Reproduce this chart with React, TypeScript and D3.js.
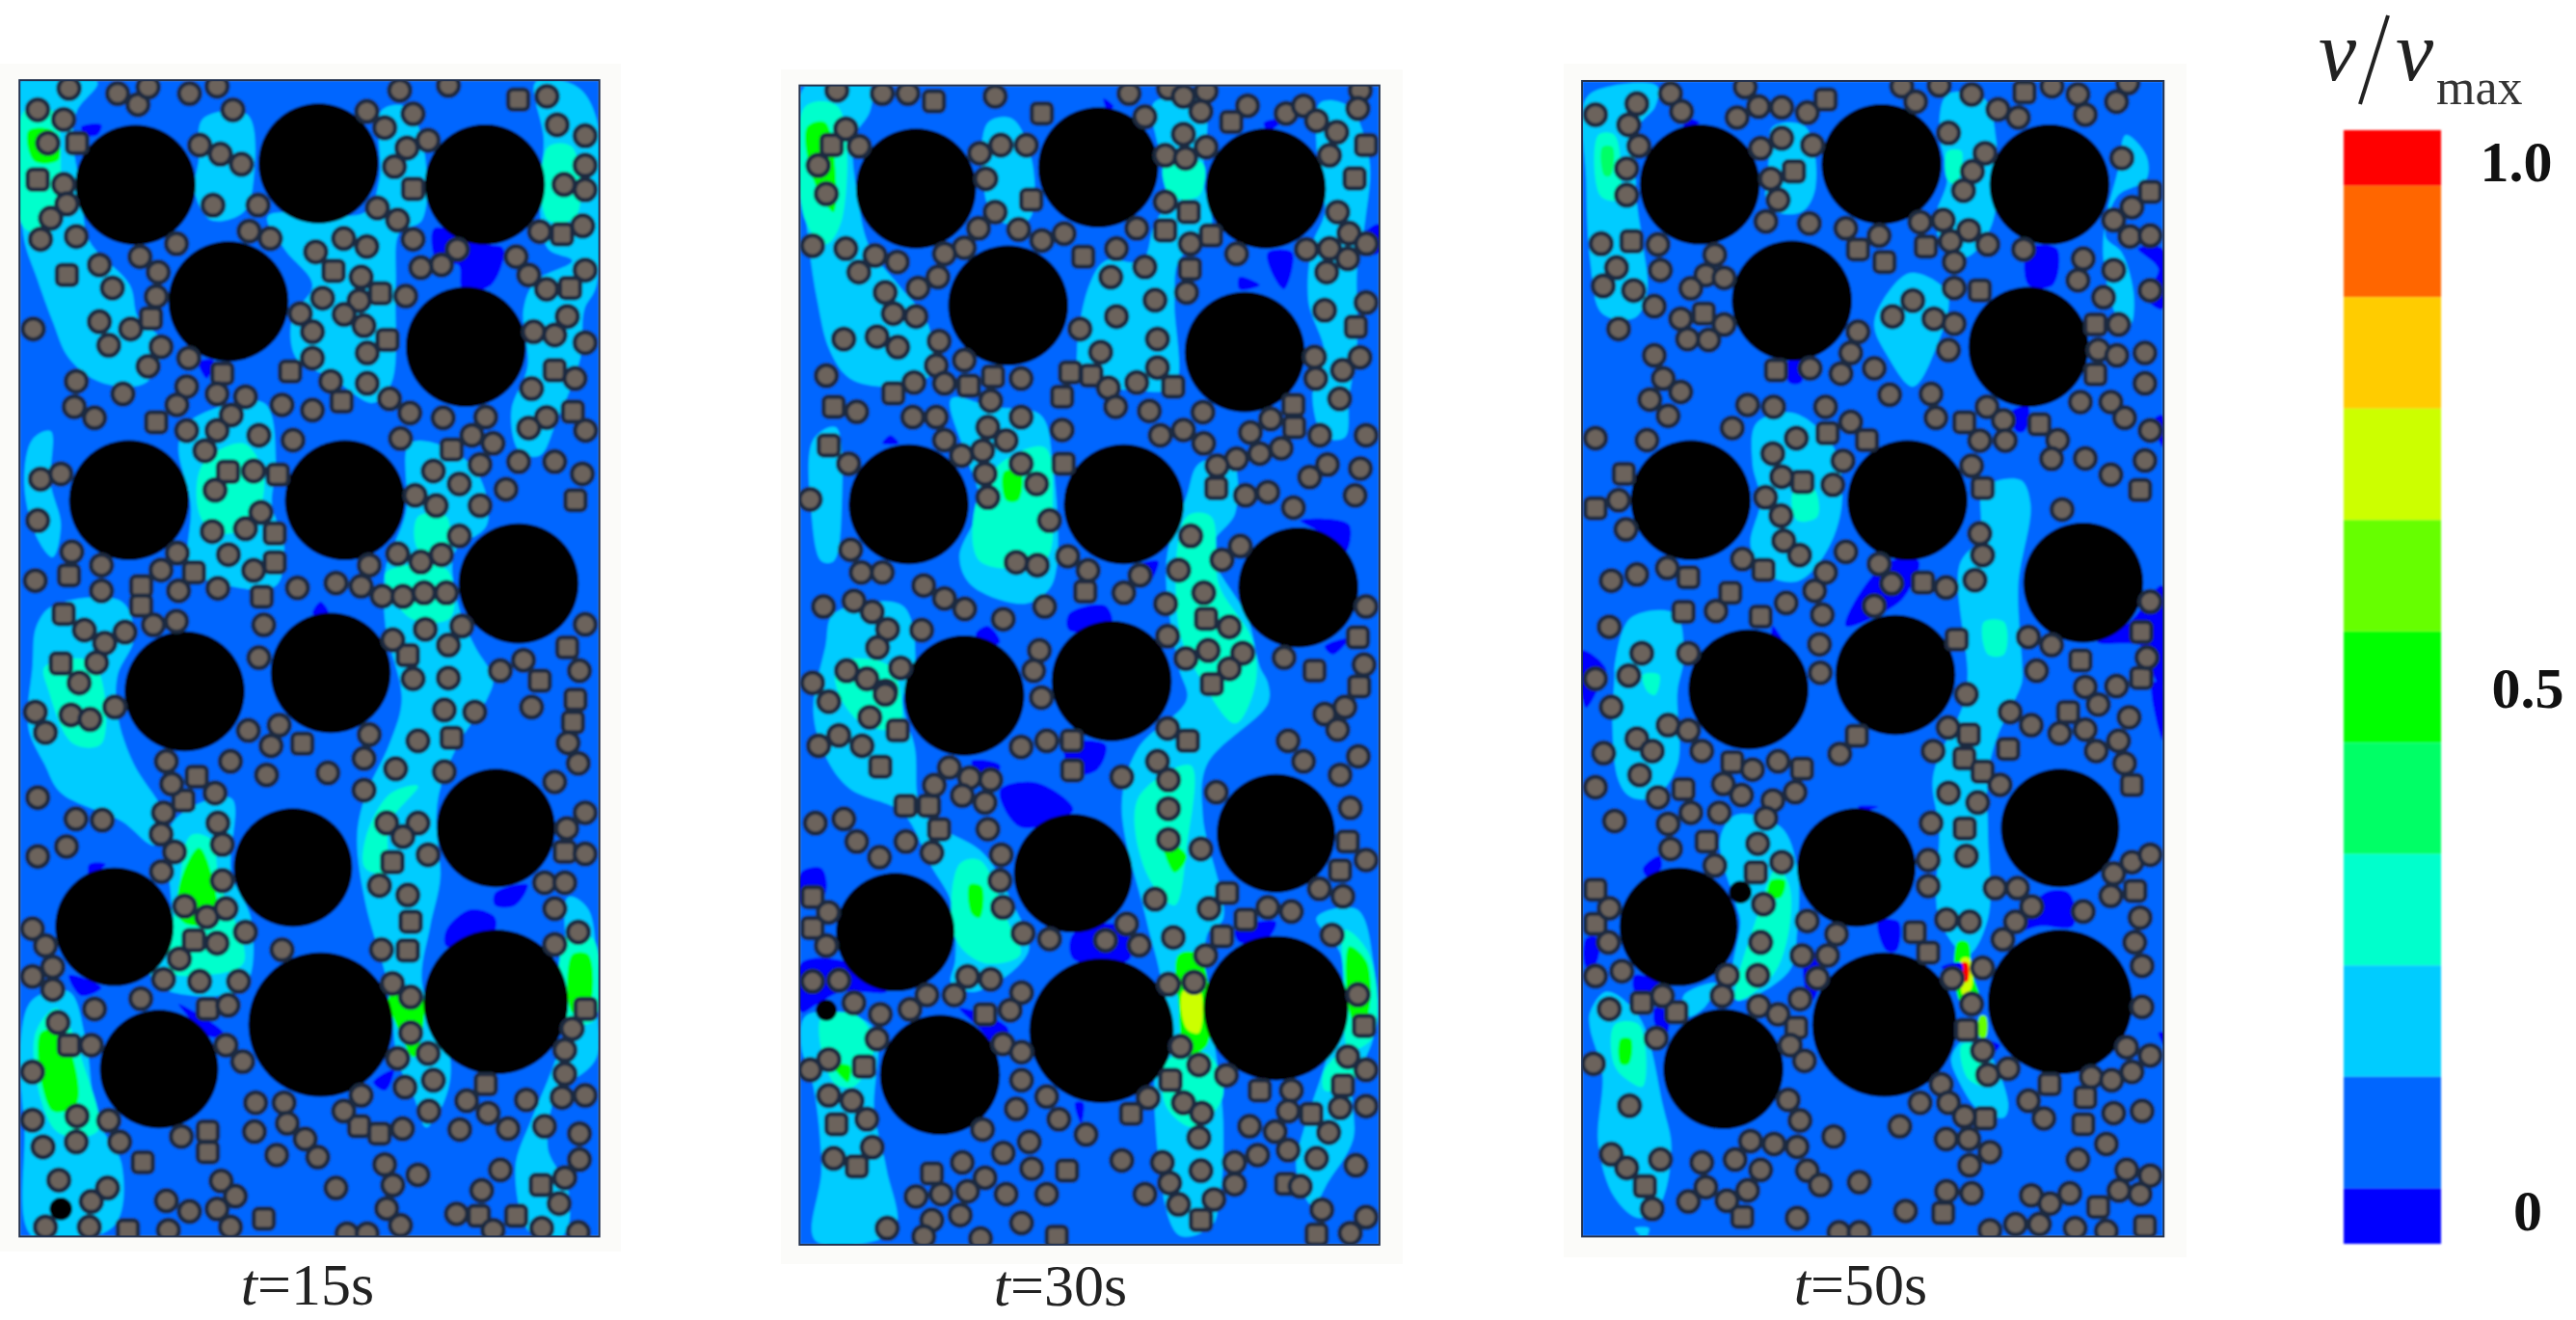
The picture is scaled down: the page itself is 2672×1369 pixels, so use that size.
import React from "react";
import * as d3 from "d3";

// All coordinates in "crop units": x 0..1568 over a 660px window,
// y 0..1568 over the upper (y 60-720) or lower (y 700-1369) window of each panel.
const bandEdges = [1, 0.95, 0.85, 0.75, 0.65, 0.55, 0.45, 0.35, 0.25, 0.15, 0.05, 0];
const bandColors = ["#ff0000", "#ff6600", "#ffcc00", "#ccff00", "#66ff00", "#00ff00", "#00ff66", "#00ffcc", "#00ccff", "#0066ff", "#0000ff"];
const tickValues = [0.972, 0.5, 0.03];
const tickLabels = ["1.0", "0.5", "0"];
const captions = ["15", "30", "50"];

// level: 0 blue, 1 background, 2 cyan, 3 teal, 4 spring, 5 green, 6 lime, 7 yellow-green, 8 amber, 9 orange, 10 red
const levelColors = ["#0000ff", "#0066ff", "#00ccff", "#00ffcc", "#00ff66", "#00ff00", "#66ff00", "#ccff00", "#ffcc00", "#ff6600", "#ff0000"];

const p1GrainsTop = [334,313,148, 785,260,148, 1195,312,148, 563,600,148, 1148,712,148, 318,1090,148, 850,1090,148, 1278,1295,148];
const p1GrainsBot = [455,40,148, 815,-5,148, 282,612,146, 722,468,146, 1222,372,146, 392,958,146, 790,850,178, 1222,795,178, 150,1298,28];
const p2GrainsTop = [333,322,148, 782,270,148, 1195,322,148, 560,610,148, 1143,725,148, 315,1100,148, 845,1100,148, 1275,1305,148];
const p2GrainsBot = [452,50,148, 815,15,148, 282,625,146, 720,482,146, 1220,385,146, 392,972,148, 790,865,178, 1220,810,178, 112,815,26];
const p3GrainsTop = [340,312,148, 788,262,148, 1202,312,148, 567,598,148, 1150,712,148, 318,1090,148, 852,1090,148, 1285,1293,148];
const p3GrainsBot = [460,35,148, 822,0,148, 288,612,146, 726,468,146, 1228,372,146, 398,958,148, 795,850,178, 1228,795,178, 440,528,28];

const p1CirclesTop = [170,75,290,88,340,115,365,72,467,88,535,70,574,128,93,128,157,152,118,210,157,312,165,360,125,395,100,447,188,440,985,80,1105,68,1348,95,904,132,948,172,1018,138,1003,222,1055,203,972,268,1373,165,1442,192,1442,265,1390,312,1442,325,492,215,543,237,595,262,525,363,636,363,930,370,980,400,614,427,666,445,435,458,345,490,245,510,390,528,385,588,277,567,245,650,322,668,268,708,397,712,365,760,82,668,465,740,778,478,847,445,904,465,1018,447,1127,472,1088,510,1037,517,1272,490,1330,428,1436,414,1303,535,1347,570,1442,523,890,540,795,592,885,598,1000,587,740,630,848,632,770,675,897,660,770,740,905,727,815,797,905,802,1398,637,1315,675,1367,683,1442,702,188,797,303,828,183,860,233,887,460,810,436,855,535,828,605,835,570,880,695,855,770,868,960,840,1010,875,1092,887,1197,885,1417,790,1310,815,1347,886,1303,912,1443,918,460,918,535,918,638,930,722,942,505,968,987,938,1163,930,1215,950,1183,1002,1278,995,1367,995,1435,1025,100,1038,150,1025,625,1018,530,1065,1068,1018,1132,1050,1023,1078,1075,1103,1183,1103,1247,1063,93,1140,643,1120,523,1167,605,1160,1132,1178,177,1217,250,1250,437,1220,563,1224,980,1222,1037,1242,1088,1224,910,1250,625,1263,397,1262,87,1288,250,1313,440,1313,537,1307,733,1306,828,1294,890,1302,942,1326,993,1327,1045,1318,1100,1318,378,1397,435,1388,208,1410,308,1415,258,1442,650,1397,1048,1408,1138,1400,1442,1396,968,1434,1105,1447,238,1490,638,1478,1290,1484,1233,1510,1428,1510,195,1540,1105,1528,1018,1530];
const p1SquaresTop = [1277,103,190,210,93,300,1018,323,165,535,1385,435,822,525,937,580,1405,567,372,642,955,695,548,778,715,773,1367,770,842,847,385,898,1412,872,1113,965,562,1020,685,1027,677,1172,170,1275,478,1268,677,1243,348,1302,348,1350,645,1328,157,1370,1005,1472,1398,1453,150,1492,1330,1535,1418,1090];
const p1CirclesBot = [87,90,112,140,175,97,222,108,283,78,1095,85,1170,90,1310,78,612,135,688,122,668,172,910,145,897,203,568,210,657,243,808,238,410,210,423,265,530,287,897,280,975,228,1030,160,1095,235,1367,260,1400,165,93,298,187,350,252,353,403,335,397,387,537,360,548,412,164,417,93,441,430,430,1442,335,1397,373,1442,435,953,360,1030,360,993,393,1055,437,398,478,548,500,935,512,1005,535,1342,505,1392,505,1367,568,455,562,510,588,557,568,80,617,112,658,130,710,80,733,130,765,535,652,605,625,695,668,940,668,1425,625,1367,655,442,690,403,740,492,745,588,745,967,750,347,787,562,803,233,812,1012,783,143,845,225,900,1012,870,1410,860,557,900,598,940,80,965,1055,920,980,932,1392,912,1392,970,998,1002,1068,985,1297,1033,1385,1027,1442,1022,630,1040,700,1040,890,1022,847,1060,1057,1060,1150,1035,1203,1065,80,1082,190,1072,268,1083,708,1090,1133,1105,1252,1103,1342,1097,992,1103,106,1147,188,1135,295,1135,447,1122,627,1110,752,1128,1428,1115,682,1167,783,1172,1428,1178,948,1190,145,1228,1030,1215,1233,1203,545,1230,265,1247,828,1247,968,1240,1187,1253,1392,1222,225,1280,410,1278,580,1267,467,1304,535,1298,1378,1285,953,1297,1125,1310,112,1342,220,1342,415,1350,568,1342,987,1338,1215,1350,855,1358,905,1358,1335,1345,1425,1355,1425,215];
const p1SquaresBot = [1113,153,1418,60,1412,115,745,167,485,247,452,305,967,455,1392,430,1012,600,1005,670,478,645,1443,812,170,900,512,812,1197,995,512,1110,512,1160,885,1097,935,1115,352,1185,650,1322,1333,1240,1180,1315,1272,1315,315,1350];

const p2CirclesTop = [138,80,250,88,313,88,528,95,858,88,955,75,992,95,1048,82,1428,80,1422,125,160,175,193,218,92,265,112,335,78,463,160,470,232,487,287,503,192,528,897,145,1035,132,1150,118,1245,137,1288,118,1320,155,1370,183,992,188,1048,220,947,240,997,247,1352,240,490,235,542,215,605,215,505,298,528,380,487,420,452,468,403,483,387,540,338,567,257,578,277,630,333,637,586,423,643,450,698,433,877,420,947,355,1372,380,1400,432,1443,458,1295,472,1352,470,1397,495,1345,528,1123,483,1009,458,827,470,897,515,813,540,1000,578,922,597,827,637,1340,622,1442,603,737,668,155,693,237,687,288,713,390,698,928,693,788,725,1315,737,1427,738,1384,770,1318,790,452,745,383,758,112,783,328,800,403,802,592,790,928,763,877,800,807,813,1377,840,187,872,517,845,825,860,325,885,383,885,592,885,908,870,1040,873,1207,890,510,910,693,917,935,930,992,917,1157,923,1328,930,403,942,555,943,1042,950,1442,930,497,968,445,980,1123,988,1180,975,1233,962,167,1000,592,1000,1075,1005,1347,1002,1428,1012,503,1025,1303,1033,630,1050,72,1088,510,1083,1145,1078,1200,1070,1415,1078,1263,1108,662,1140,1010,1178,1132,1203,172,1212,707,1228,1087,1237,198,1268,250,1268,580,1243,632,1250,757,1263,980,1262,885,1275,352,1300,403,1332,845,1318,1042,1318,180,1338,105,1352,225,1365,453,1358,650,1352,948,1345,1442,1352,548,1383,263,1408,347,1410,1105,1402,953,1425,238,1453,637,1460,1138,1467,1053,1460,998,1480,1240,1478,295,1503,1437,1495,162,1510,212,1530,1105,1505,623,1510,78,1540,258,1560];
const p2SquaresTop = [377,107,643,137,1110,158,125,215,1442,215,1414,297,617,350,1005,380,947,425,1060,438,745,490,1008,520,1417,663,713,775,765,783,523,785,463,808,277,827,693,835,967,810,130,860,1263,855,1265,910,118,955,697,1000,1073,1060,750,1315,1048,1382,1422,1428,1315,1510];
const p2CirclesBot = [118,65,257,47,642,55,219,103,143,147,93,172,200,172,1340,95,1390,78,1372,133,1250,160,592,175,655,160,953,130,415,225,928,210,955,255,840,248,1288,210,1423,198,1378,243,465,250,517,255,378,268,447,293,503,310,1073,285,955,325,1403,323,155,350,85,360,187,405,308,405,510,375,955,400,372,432,243,443,543,437,1035,423,1442,450,540,500,1327,520,1385,538,922,545,1055,568,547,565,1200,565,1258,575,117,577,597,628,662,642,800,645,852,605,883,657,1358,632,967,638,112,658,1047,682,460,733,517,740,143,742,78,745,1018,747,955,752,593,772,1422,777,360,778,427,778,180,797,318,813,565,815,245,825,237,885,547,897,593,917,985,903,118,935,1397,928,1030,948,72,960,1442,960,1098,973,593,985,1258,1010,118,1022,655,1025,905,1028,175,1035,992,1040,580,1055,1037,1065,1250,1060,1378,1052,1442,1048,212,1080,685,1080,1155,1097,1350,1112,497,1105,1218,1110,752,1117,1030,1125,612,1135,225,1148,1250,1155,548,1162,1175,1167,130,1175,447,1185,840,1180,940,1185,1320,1175,1118,1185,1417,1192,618,1200,1035,1205,503,1222,958,1235,1118,1238,1280,1243,333,1268,395,1262,460,1255,555,1262,655,1262,897,1262,1067,1275,980,1287,1333,1300,442,1313,372,1325,262,1345,593,1332,1442,1318,1403,1357,352,1365,492,1370];
const p2SquaresBot = [1062,22,1425,28,288,135,1003,160,245,223,718,232,717,160,307,318,365,318,390,375,1397,405,1378,475,1100,530,1145,595,78,540,78,615,1087,635,503,825,1437,853,205,952,960,985,1385,998,1180,1010,863,1067,1307,1067,137,1092,187,1195,372,1212,705,1205,1245,1237,1035,1325,680,1365,1320,1360];

const p3CirclesTop = [268,88,452,72,838,70,930,68,1010,90,1208,70,1272,90,1395,62,1367,108,1290,140,185,113,83,140,165,165,295,132,432,147,485,120,542,122,605,135,872,108,1075,127,1125,147,190,217,542,198,490,223,618,215,953,185,1043,235,160,273,1380,247,515,298,1012,280,160,338,533,350,990,327,1405,368,503,403,610,408,700,420,883,405,940,400,1360,400,782,438,1003,425,958,452,1050,460,1400,440,1450,438,97,458,237,460,1138,472,377,485,1285,495,967,503,135,517,243,523,355,535,400,542,1360,523,1272,548,102,562,177,573,318,568,967,567,1450,573,1335,590,228,612,865,598,293,643,400,657,815,637,917,643,967,655,1372,657,140,668,730,675,310,693,362,695,712,727,953,720,1322,720,1368,733,1437,727,228,733,612,765,688,778,770,765,250,790,293,823,1437,802,217,842,808,830,910,828,458,855,522,860,650,860,1048,860,1278,848,1353,848,262,882,922,887,1387,887,712,897,1088,893,420,912,1450,918,83,937,210,942,578,937,1030,943,1093,943,1222,942,520,975,693,993,1207,988,1290,987,1437,992,1010,1005,1353,1027,542,1032,668,1052,140,1090,502,1083,1233,1113,540,1128,158,1162,1030,1172,547,1190,700,1217,586,1225,1037,1225,445,1235,260,1257,782,1247,185,1273,650,1268,122,1288,1018,1287,813,1295,947,1305,623,1313,553,1343,380,1363,642,1372,770,1350,1450,1340,117,1402,1150,1427,1207,1447,635,1445,197,1467,312,1467,1442,1478,637,1515,165,1522,83,1530,1170,1510,1290,1550,1367,1548];
const p3SquaresTop = [650,103,1140,85,572,280,1450,330,172,452,730,472,897,465,795,503,1030,573,350,630,1315,657,1315,780,528,770,992,898,1177,903,655,925,752,942,153,1025,593,1045,1037,1060,83,1110,1425,1065,497,1262,312,1280,890,1293,415,1318,300,1365,490,1377,973,1433,1428,1415,1278,1485,1428,1528];
const p3CirclesBot = [122,78,997,47,1105,90,1157,122,1322,72,1398,103,262,122,312,135,952,128,1227,142,1290,133,185,155,223,185,103,190,345,185,685,192,915,185,1372,160,1317,185,533,210,470,230,192,243,83,273,398,265,1387,215,1080,267,443,292,237,298,575,285,520,305,953,287,1025,310,388,335,318,335,503,348,130,355,262,362,910,360,483,410,268,423,997,440,377,463,903,450,542,455,1405,455,1450,437,1360,483,903,513,1068,518,1123,518,1353,537,497,557,1158,563,117,567,1285,575,948,595,1005,600,1118,600,605,598,1425,590,677,630,490,650,115,650,1087,643,592,682,655,682,1412,650,1430,707,1037,712,408,730,483,730,148,720,83,732,630,737,962,738,395,780,248,780,587,788,1010,800,485,805,117,812,533,825,1430,807,233,883,563,900,1392,905,1037,913,1450,925,598,938,78,945,1100,957,1050,972,1405,965,1305,977,1355,985,935,995,558,1033,1150,1035,953,1040,167,1047,883,1040,1360,1065,1430,1060,992,1073,1188,1078,587,1083,833,1097,670,1122,947,1128,1003,1128,465,1133,523,1140,580,1147,1342,1140,122,1165,1055,1160,1272,1178,243,1178,345,1185,427,1178,160,1198,1005,1192,490,1203,605,1205,1392,1203,1450,1217,637,1240,733,1233,355,1245,458,1253,1373,1253,1252,1260,948,1255,1010,1260,1157,1265,1425,1262,312,1280,407,1278,1203,1285,223,1298,847,1303,580,1320,1118,1335,1177,1335,1055,1350,1265,1345,683,1355,733,1355,1342,1352];
const p3SquaresBot = [1248,90,727,148,1003,145,1100,180,992,203,1037,235,420,212,592,228,1405,268,300,278,993,373,357,405,478,480,1413,525,83,522,83,605,870,625,903,675,197,797,282,820,578,857,997,863,1202,995,1290,1027,1043,1078,1285,1092,205,1243,445,1317,940,1308,1322,1293,1437,1340];

type Region = [number, number[]];
const p1RegionsTop: Region[] = [
  [2,[50,60,240,60,190,130,180,200,200,330,220,450,320,560,340,640,400,700,360,800,250,800,170,740,130,650,90,540,60,450,50,300]],
  [2,[500,150,610,140,625,300,600,380,520,400,480,330,490,250]],
  [2,[940,130,1000,120,1040,200,1040,400,985,430,975,560,965,800,920,850,820,790,730,740,720,640,770,560,700,470,660,390,900,380,935,300]],
  [2,[1320,60,1420,70,1470,150,1470,560,1440,620,1430,740,1370,900,1330,980,1280,970,1260,870,1300,760,1290,620,1320,550,1410,500,1350,470,1330,350,1340,200]],
  [2,[80,940,125,920,125,1050,150,1150,130,1230,90,1180,60,1050]],
  [2,[460,900,650,850,680,1000,670,1100,700,1200,680,1300,560,1300,470,1260,470,1100,440,960]],
  [2,[1010,950,1100,960,1180,1030,1200,1150,1120,1220,1130,1350,1170,1450,1215,1530,1200,1580,1130,1690,1085,1800,1075,1880,1085,2020,1060,2140,1040,2280,1110,2470,1095,2570,1050,2635,1020,2560,980,2470,960,2300,900,2080,880,1920,900,1820,960,1690,990,1580,950,1400,950,1260,1000,1120]],
  [2,[80,1500,90,1400,130,1350,300,1340,330,1430,290,1520,290,1621,330,1741,400,1851,420,1921,380,1941,300,1881,150,1811,110,1741,70,1651]],
  [3,[60,130,130,130,150,300,140,420,60,420]],
  [5,[70,180,130,180,145,250,85,255]],
  [3,[1350,220,1410,220,1420,390,1350,400]],
  [3,[500,1000,600,950,650,1030,620,1150,530,1170,490,1120]],
  [3,[1030,1130,1100,1130,1100,1220,1030,1210]],
  [3,[950,1270,1100,1260,1110,1380,1010,1380]],
  [3,[110,1500,230,1490,250,1690,180,1690,120,1560]],
  [0,[200,170,250,165,240,190,210,190]],
  [0,[1070,420,1200,460,1240,470,1210,560,1140,570,1130,510,1080,510]],
  [0,[490,750,525,745,510,790]],
  [0,[770,1370,810,1370,790,1340]],
];
const p1RegionsBot: Region[] = [
  [2,[425,360,570,300,570,480,620,600,600,760,420,770,370,730,420,600]],
  [2,[80,790,170,770,210,880,240,1080,300,1190,280,1340,80,1365,60,1100,50,900]],
  [2,[1400,540,1450,570,1470,800,1470,930,1420,980,1380,1000,1350,1150,1400,1250,1390,1360,1310,1360,1270,1200,1310,1080,1360,960,1400,830]],
  [3,[440,530,470,390,520,400,540,500,600,700,490,730,420,720]],
  [5,[440,520,490,420,520,480,530,600,450,600]],
  [3,[900,400,960,290,1030,270,960,360,950,480,900,470]],
  [3,[85,880,140,810,210,960,240,1110,140,1110]],
  [5,[100,870,150,870,190,1040,130,1060]],
  [3,[1395,640,1460,640,1465,840,1395,840]],
  [5,[1410,680,1450,680,1450,810,1410,820]],
  [5,[960,780,1040,780,1020,930,990,880]],
  [0,[170,730,250,760,200,780]],
  [0,[1100,620,1160,570,1220,590,1210,640,1100,660]],
  [0,[920,990,970,960,950,1010]],
  [0,[440,800,550,870,520,880]],
  [0,[220,460,260,460,220,490]],
  [0,[1220,530,1300,510,1270,560,1220,560]],
];
const p2RegionsTop: Region[] = [
  [2,[60,70,220,70,220,130,180,200,190,350,220,470,290,560,360,650,370,780,270,810,170,790,120,720,90,600,70,470,55,300]],
  [2,[510,160,570,150,620,260,610,400,530,400,500,320]],
  [2,[920,110,1040,110,1040,300,1060,420,980,500,970,600,970,810,880,820,740,790,730,720,760,560,800,500,890,500,920,410,960,340,930,220]],
  [2,[1330,110,1400,120,1450,250,1440,400,1420,520,1420,700,1400,840,1390,935,1340,935,1310,830,1340,730,1300,600,1310,460,1340,380,1320,220]],
  [2,[80,940,135,910,150,1100,130,1240,100,1240,75,1120]],
  [2,[420,840,520,860,640,880,670,1000,680,1250,660,1310,600,1345,470,1300,440,1230,490,1100,460,990]],
  [2,[1030,1000,1110,990,1120,1120,1060,1210,1150,1380,1180,1500,1200,1540,1200,1591,1050,1741,1040,1871,1090,2121,1050,2161,1090,2621,1080,2821,1060,2880,980,2900,920,2571,940,2301,900,2121,840,1841,880,1701,1000,1581,980,1500,950,1240,1000,1080]],
  [2,[130,1370,300,1350,330,1500,300,1580,330,1700,350,1861,500,1961,570,2081,610,2201,480,2301,420,2281,430,2221,420,2081,370,1991,300,1861,170,1801,110,1721,80,1611,110,1450]],
  [3,[60,120,140,120,150,400,110,460,60,400]],
  [5,[65,170,110,160,130,380,80,300]],
  [3,[945,260,1040,260,1030,340,960,340]],
  [3,[540,1000,650,960,670,1100,650,1240,490,1240,480,1100]],
  [5,[550,1020,590,1020,585,1090,555,1090]],
  [3,[1000,1130,1060,1130,1080,1300,1160,1430,1170,1540,1120,1640,1040,1540,980,1400]],
  [3,[140,1490,270,1500,290,1650,200,1640,140,1560]],
  [0,[795,100,820,120,805,130]],
  [0,[1190,160,1240,150,1200,180]],
  [0,[1200,480,1260,480,1240,570,1210,530]],
  [0,[1130,540,1180,560,1130,570]],
  [0,[1440,430,1475,410,1475,480,1430,480]],
  [0,[250,950,290,950,270,930]],
  [0,[480,1420,510,1400,540,1440,500,1450]],
  [0,[710,1370,800,1350,815,1400,710,1410]],
  [0,[1280,1140,1400,1150,1390,1220,1330,1170]],
  [0,[1340,1450,1400,1430,1360,1470]],
  [0,[860,1260,930,1240,900,1300]],
];
const p2RegionsBot: Region[] = [
  [2,[60,830,130,820,230,860,230,1060,260,1200,280,1350,85,1375,100,1200,80,1000,50,900]],
  [2,[1320,590,1420,570,1460,700,1460,880,1410,1000,1410,1130,1350,1230,1310,1290,1270,1200,1290,1100,1340,950,1380,800,1380,680]],
  [3,[440,460,490,450,560,600,590,680,500,700,430,640]],
  [5,[465,510,495,515,490,590,470,580]],
  [3,[880,300,1010,220,1000,420,970,560,900,480]],
  [5,[940,400,1000,440,970,480]],
  [3,[950,940,1050,920,1090,1020,1020,1100,950,1050]],
  [5,[980,680,1030,680,1050,900,1000,920,980,800]],
  [7,[990,770,1030,760,1030,870,1000,860]],
  [3,[1390,620,1450,680,1460,880,1400,910,1390,780]],
  [5,[1400,660,1445,700,1440,840,1410,840]],
  [3,[1340,960,1400,910,1410,990,1340,1010]],
  [3,[100,830,190,830,230,900,180,1000,130,990]],
  [5,[130,950,170,950,165,990]],
  [0,[50,480,100,470,110,530,50,560]],
  [0,[540,280,620,260,700,300,720,330,590,370]],
  [0,[470,210,540,220,510,270]],
  [0,[720,630,840,610,860,690,720,690]],
  [0,[700,170,800,170,780,230,720,240]],
  [0,[50,700,170,700,260,770,150,770,90,800,50,820]],
  [0,[440,810,560,860,540,910,490,860]],
  [0,[1120,620,1220,600,1200,640,1130,650]],
  [0,[840,1070,890,1050,850,1095]],
  [0,[725,1040,745,1040,740,1090]],
];
const p3RegionsTop: Region[] = [
  [2,[60,100,120,70,235,70,230,120,190,170,185,350,200,460,210,580,180,640,100,630,70,500,60,300]],
  [2,[520,170,600,170,625,320,590,380,510,370,510,250]],
  [2,[950,90,1040,100,1070,200,1060,410,1000,490,950,480,920,400,950,300,930,180]],
  [2,[1390,190,1440,240,1440,300,1370,340,1340,440,1380,480,1410,590,1400,660,1370,640,1335,500,1340,400,1370,280]],
  [2,[860,530,950,580,920,720,865,810,800,730,770,660,790,600]],
  [2,[480,900,570,875,670,960,690,1100,650,1220,580,1290,500,1270,465,1200,490,1090,470,1000]],
  [2,[1040,1060,1130,1040,1155,1100,1125,1300,1135,1530,1130,1551,1070,1681,1050,1771,1050,1901,1050,2121,1000,2210,930,2121,930,1901,915,1771,990,1591,1000,1520,980,1250,1030,1180]],
  [2,[130,1500,170,1380,280,1370,300,1480,285,1561,285,1741,230,1821,170,1821,140,1781,125,1651,130,1520]],
  [3,[90,190,130,190,135,350,95,340]],
  [4,[100,220,125,220,120,290,105,290]],
  [3,[950,230,985,230,970,310,950,300]],
  [3,[570,1070,620,1060,630,1130,580,1140]],
  [3,[1040,1390,1090,1390,1090,1470,1050,1470]],
  [3,[200,1520,240,1520,230,1570,210,1560]],
  [0,[310,150,340,160,300,170]],
  [0,[1150,470,1220,470,1210,560,1150,560]],
  [0,[560,745,590,745,590,800,560,800]],
  [0,[1420,470,1480,470,1480,620,1440,590,1470,520]],
  [0,[1110,870,1150,860,1140,920,1120,920]],
  [0,[1460,890,1480,880,1480,960]],
  [0,[810,1240,880,1240,850,1320,820,1350,700,1400,740,1310]],
  [0,[520,1400,550,1450,520,1440]],
  [0,[50,1460,110,1510,50,1560]],
  [0,[1320,1440,1400,1390,1480,1300,1480,1560,1450,1500,1430,1450]],
];
const p3RegionsBot: Region[] = [
  [2,[1000,880,1040,900,1100,1040,1090,1075,1030,1060,980,990,960,930]],
  [2,[390,400,430,340,540,370,580,470,580,620,560,720,430,790,420,720,440,600,430,560]],
  [2,[70,820,110,770,190,830,250,1050,270,1150,240,1290,190,1320,130,1270,90,1140,100,970,70,860]],
  [2,[180,1345,215,1345,205,1369]],
  [2,[300,780,380,750,350,810,310,830]],
  [3,[430,790,480,590,530,470,560,510,560,620,520,730]],
  [5,[515,500,550,500,540,540,510,540]],
  [3,[130,850,190,850,200,1000,170,990,130,950]],
  [5,[145,885,170,885,165,945,145,945]],
  [3,[985,900,1020,900,1050,1000,1000,980]],
  [5,[975,650,1000,650,1010,720,1030,800,985,800]],
  [7,[985,690,1005,690,1010,760,990,780]],
  [10,[985,700,1000,700,1000,745,990,745]],
  [6,[1030,830,1045,830,1045,880,1030,880]],
  [0,[50,20,90,20,60,80]],
  [0,[1455,20,1480,20,1480,160]],
  [0,[200,470,240,440,245,470,210,490]],
  [0,[730,320,780,320,740,330]],
  [0,[1190,530,1250,530,1260,610,1180,610,1130,620]],
  [0,[60,640,90,640,85,700,60,710]],
  [0,[780,600,830,600,825,670,800,670]],
  [0,[180,730,240,750,230,770,180,770]],
  [0,[230,810,260,820,260,870,230,850]],
  [0,[1470,870,1485,870,1485,900]],
  [0,[600,680,640,680,620,790,605,780]],
  [0,[935,710,985,700,985,730]],
  [0,[1050,890,1080,900,1060,920]],
];

const pairs = (a: number[]) => d3.range(0, a.length, 2).map((i) => [a[i], a[i + 1]] as [number, number]);
const triples = (a: number[]) => d3.range(0, a.length, 3).map((i) => [a[i], a[i + 1], a[i + 2]]);

const panels = [
  { key: "p1", cropX: 0, frame: [48, 1477, 55, 1365], halo: [0, 644, 66, 1298], gt: p1GrainsTop, gb: p1GrainsBot, ct: p1CirclesTop, st: p1SquaresTop, cb: p1CirclesBot, sb: p1SquaresBot, rt: p1RegionsTop, rb: p1RegionsBot, cap: 0, capX: 319, capY: 1353 },
  { key: "p2", cropX: 810, frame: [46, 1475, 68, 1385], halo: [810, 1455, 72, 1311], gt: p2GrainsTop, gb: p2GrainsBot, ct: p2CirclesTop, st: p2SquaresTop, cb: p2CirclesBot, sb: p2SquaresBot, rt: p2RegionsTop, rb: p2RegionsBot, cap: 1, capX: 1100, capY: 1354 },
  { key: "p3", cropX: 1620, frame: [50, 1483, 57, 1365], halo: [1622, 2268, 66, 1304], gt: p3GrainsTop, gb: p3GrainsBot, ct: p3CirclesTop, st: p3SquaresTop, cb: p3CirclesBot, sb: p3SquaresBot, rt: p3RegionsTop, rb: p3RegionsBot, cap: 2, capX: 1930, capY: 1353 },
];

const yTop = d3.scaleLinear().domain([0, 1568]).range([60, 720]);
const yBot = d3.scaleLinear().domain([0, 1568]).range([700, 1369]);
const serif = "'Liberation Serif', serif";
const particleFill = "#6c635c";
const particleStroke = "#1f2b40";

function Panel({ p }: { p: (typeof panels)[number] }) {
  const x = d3.scaleLinear().domain([0, 1568]).range([p.cropX, p.cropX + 660]);
  const rUnit = 660 / 1568;
  const line = d3.line<[number, number]>().curve(d3.curveCatmullRomClosed.alpha(0.5));
  const regionPath = (r: Region, y: d3.ScaleLinear<number, number>) =>
    line(pairs(r[1]).map(([a, b]) => [x(a), y(b)] as [number, number])) as string;
  const regions = [
    ...p.rt.map((r) => ({ lvl: r[0], d: regionPath(r, yTop) })),
    ...p.rb.map((r) => ({ lvl: r[0], d: regionPath(r, yBot) })),
  ].sort((a, b) => (a.lvl === 0 ? 1 : b.lvl === 0 ? -1 : a.lvl - b.lvl));
  const [f0, f1, f2, f3] = p.frame;
  const fx = x(f0), fw = x(f1) - x(f0), fy = yTop(f2), fh = yBot(f3) - yTop(f2);
  const circles = [
    ...pairs(p.ct).map(([a, b]) => [x(a), yTop(b)]),
    ...pairs(p.cb).map(([a, b]) => [x(a), yBot(b)]),
  ];
  const squares = [
    ...pairs(p.st).map(([a, b]) => [x(a), yTop(b)]),
    ...pairs(p.sb).map(([a, b]) => [x(a), yBot(b)]),
  ];
  const grains = [
    ...triples(p.gt).map(([a, b, r]) => [x(a), yTop(b), r * rUnit]),
    ...triples(p.gb).map(([a, b, r]) => [x(a), yBot(b), r * rUnit]),
  ];
  return (
    <g>
      <rect x={p.halo[0]} y={p.halo[2]} width={p.halo[1] - p.halo[0]} height={p.halo[3] - p.halo[2]} fill="#fbfbf9" />
      <clipPath id={`clip-${p.key}`}>
        <rect x={fx} y={fy} width={fw} height={fh} />
      </clipPath>
      <g clipPath={`url(#clip-${p.key})`} filter="url(#soft)">
        <rect x={fx} y={fy} width={fw} height={fh} fill={levelColors[1]} />
        {regions.map((r, i) => (
          <path key={i} d={r.d} fill={levelColors[r.lvl]} />
        ))}
        {grains.map(([a, b, r], i) => (
          <circle key={i} cx={a} cy={b} r={r} fill="#000" />
        ))}
        {squares.map(([a, b], i) => (
          <rect key={i} x={a - 10.5} y={b - 10.5} width={21} height={21} rx={5} fill={particleFill} stroke={particleStroke} strokeWidth={4.5} />
        ))}
        {circles.map(([a, b], i) => (
          <circle key={i} cx={a} cy={b} r={11} fill={particleFill} stroke={particleStroke} strokeWidth={4.5} />
        ))}
      </g>
      <rect x={fx} y={fy} width={fw} height={fh} fill="none" stroke="#23324f" strokeWidth={2} />
      <text x={p.capX} y={p.capY} textAnchor="middle" fontFamily={serif} fontSize={62} fill="#222">
        <tspan fontStyle="italic">t</tspan>={captions[p.cap]}s
      </text>
    </g>
  );
}

export default function App() {
  const yBar = d3.scaleLinear().domain([0, 1]).range([1290, 135]);
  const tickX = [2610, 2622, 2622];
  return (
    <svg width={2672} height={1369} style={{ position: "absolute", left: 0, top: 0, background: "#fff" }}>
      <defs>
        <filter id="soft" x="-2%" y="-2%" width="104%" height="104%">
          <feGaussianBlur stdDeviation="1.1" />
        </filter>
        <filter id="softBar" x="-5%" y="-2%" width="110%" height="104%">
          <feGaussianBlur stdDeviation="1" />
        </filter>
      </defs>
      {panels.map((p) => (
        <Panel key={p.key} p={p} />
      ))}
      <g filter="url(#softBar)">
        {bandColors.map((c, i) => (
          <rect key={c} x={2431} width={101} y={yBar(bandEdges[i])} height={yBar(bandEdges[i + 1]) - yBar(bandEdges[i])} fill={c} />
        ))}
      </g>
      {tickLabels.map((t, i) => (
        <text key={t} x={tickX[i]} y={yBar(tickValues[i]) + 21} textAnchor="middle" fontFamily={serif} fontWeight="bold" fontSize={60} fill="#111">
          {t}
        </text>
      ))}
      <g fontFamily={serif} fill="#222">
        <text x={2405} y={83} fontStyle="italic" fontSize={88}>v</text>
        <line x1={2477} y1={16} x2={2448} y2={108} stroke="#222" strokeWidth={4} />
        <text x={2485} y={83} fontStyle="italic" fontSize={88}>v</text>
        <text x={2527} y={108} fontSize={52} fill="#333">max</text>
      </g>
    </svg>
  );
}
